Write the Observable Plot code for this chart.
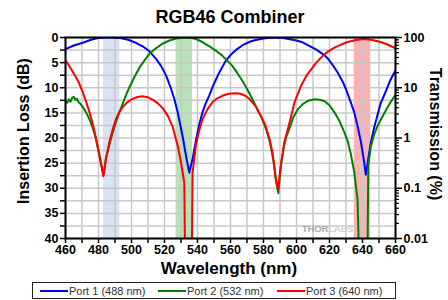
<!DOCTYPE html>
<html>
<head>
<meta charset="utf-8">
<script src="https://cdn.jsdelivr.net/npm/d3@7"></script>
<script src="https://cdn.jsdelivr.net/npm/@observablehq/plot@0.6"></script>
<style>
  html, body { margin: 0; padding: 0; background: #fff; }
  #wrap { position: relative; width: 448px; height: 300px; font-family: "Liberation Sans", Arial, sans-serif; color: #000; overflow: hidden; }
  #wrap svg { position: absolute; left: 0; top: 0; }
  .abs { position: absolute; white-space: nowrap; }
  #title { left: 130px; width: 200px; top: 7px; text-align: center; font-size: 18px; font-weight: bold; line-height: 20px; }
  #xlab { left: 129px; width: 200px; top: 259px; text-align: center; font-size: 17px; font-weight: bold; line-height: 20px; }
  #ylab { left: -76px; top: 121px; width: 200px; height: 20px; text-align: center; font-size: 16px; font-weight: bold; line-height: 20px; transform: rotate(-90deg); }
  #rlab { left: 335px; top: 124px; width: 200px; height: 20px; text-align: center; font-size: 16px; font-weight: bold; line-height: 20px; transform: rotate(90deg); }
  #legend { left: 32px; top: 282px; width: 364px; height: 17px; box-sizing: border-box; border: 1px solid #222; font-size: 11px; color: #333; }
  .item { position: absolute; top: 0; height: 15px; display: flex; align-items: center; }
  .sw { width: 28px; height: 2px; margin-right: 1px; }
  #wm { left: 302px; top: 223px; font-size: 9.5px; font-weight: bold; letter-spacing: -0.2px; }
</style>
</head>
<body>
<div id="wrap">
  <div id="plot"></div>
  <div id="title" class="abs">RGB46 Combiner</div>
  <div id="xlab" class="abs">Wavelength (nm)</div>
  <div id="ylab" class="abs">Insertion Loss (dB)</div>
  <div id="rlab" class="abs">Transmission (%)</div>
  <div id="wm" class="abs"><span style="color:#a8a8a8">THOR</span><span style="color:#d0d0d0">LABS</span></div>
  <div id="legend" class="abs"></div>
</div>
<script>
// ---- Data ----
const seriesNames = ["Port 1 (488 nm)", "Port 2 (532 nm)", "Port 3 (640 nm)"];
const seriesColors = ["#0000ff", "#008000", "#ff0000"];

const port1Wl = [460,465,470,475,479,484,488,493,498,503,507,511,515,518,521,524,526,528,531,533,535,537,539,541,543,545,547,550,553,557,560,564,568,572,576,581,586,591,596,600,604,608,612,616,619,622,625,628,630,633,635,637,639,641,642,643,645,647,649,651,654,657,660];
const port1Loss = [2.3,1.6,1.1,0.5,0.15,0.02,0,0.1,0.45,1.1,1.8,2.8,4.3,5.7,7.6,10.2,12.3,14.9,19.7,23.5,26.9,24.2,20.6,17.4,14.9,13.1,11.6,9.2,7.1,4.7,3.5,2.3,1.4,0.8,0.45,0.15,0,0.05,0.35,0.6,1.0,1.7,2.4,3.3,4.2,5.5,7.0,8.8,10.3,13.0,14.9,17.6,20.7,24.8,27.3,25.2,21.0,18.0,15.5,13.1,10.8,8.4,6.5];

const port2Wl = [460,461,462,463,464,465,466,467,468,469,470,472,474,476,478,480,481.5,483,484.5,486.5,488.5,490.5,492.5,494.5,497,499,502,505,508,511,515,519,523,527,531,535,539,543,547,551,555,558,561,564,567,570,573,576,579,582,584,586,587.5,589,590.5,592.5,594,596,598,601,604,607,611,614,617,620,623,626,629,631,633,635,637,638,643,643.5,645,647,649,651,654,657,660];
const port2Loss = [12.6,13.0,12.3,12.8,12.0,11.8,12.4,12.2,12.9,13.2,13.6,14.6,15.9,17.5,19.6,22.5,24.9,27.3,24.0,21.5,19.0,16.9,15.0,13.3,11.2,9.7,7.7,5.9,4.5,3.2,2.1,1.2,0.6,0.2,0.03,0,0.3,0.9,1.7,2.6,3.6,4.6,5.6,7.0,8.5,10.2,12.1,14.1,16.1,18.6,21.0,24.5,28.5,31.0,25.5,21.5,19.6,17.9,15.9,14.2,13.2,12.6,12.3,12.4,12.7,13.5,14.9,16.6,18.9,20.6,23.3,26.8,32.2,45,45,25.5,21.8,19.4,17.7,16.4,14.6,12.9,11.4];

const port3Wl = [460,462,464,466,468,470,472,474,476,478,480,481.5,483,484.5,486.5,488.5,490.5,492.5,494.5,497,500,503,506.5,510,513,516,519,522,525,528,530,532,532.5,536.5,537,539,541,543,546,549,552,555,559,563,566,569,572,575,578,581,583.5,585.5,587.5,588.8,590.5,592.5,595.8,598.8,602.8,606,609,612,616,619.5,623,627,631,636,641,646,651,655,660];
const port3Loss = [4.6,5.5,6.6,7.7,8.9,10.5,12.3,14.3,16.5,19.3,22.6,25.2,27.6,24.3,20.9,18.4,16.3,14.9,13.9,13.0,12.3,11.9,11.7,11.9,12.4,13.1,14.1,15.6,17.8,21.6,24.8,29.0,45,45,27,21.5,18.5,16.3,14.3,12.9,12.1,11.6,11.2,11.1,11.2,11.6,12.4,13.6,15.3,17.4,20.0,23.0,28.0,30.3,25.5,21.0,16.9,12.9,9.6,7.6,6.3,5.0,3.6,2.7,2.0,1.4,0.9,0.5,0.3,0.5,0.9,1.4,2.1];

// shaded laser bands (nm)
const bandLo = [483, 527, 635];
const bandHi = [493, 537, 645];
const bandColors = ["#d9e3f5", "#b9e2b9", "#ffb0b0"];

// axis ticks / labels
const xTickLabels = [460,480,500,520,540,560,580,600,620,640,660];
const yTickLabels = [0,5,10,15,20,25,30,35,40];
const transLabels = ["100","10","1","0.1","0.01"];
const transPct = [100,10,1,0.1,0.01];

// ---- Build ----
const zip = (wl, loss) => wl.map((w, i) => ({wl: w, loss: loss[i]}));
const ports = [zip(port1Wl, port1Loss), zip(port2Wl, port2Loss), zip(port3Wl, port3Loss)];
const bands = bandLo.map((lo, i) => ({lo, hi: bandHi[i], color: bandColors[i]}));

const pctToDb = p => -10 * Math.log10(p / 100);
const transDb = transPct.map(pctToDb);
const minorPct = [];
for (const dec of [0.01, 0.1, 1, 10]) for (let k = 2; k <= 9; k++) minorPct.push(k * dec);
const minorDb = minorPct.map(pctToDb);

const xGrid = d3.range(460, 661, 10);
const yGrid = d3.range(0, 40.01, 2.5);

const chart = Plot.plot({
  width: 448,
  height: 300,
  marginTop: 37,
  marginBottom: 62,
  marginLeft: 65,
  marginRight: 53,
  style: {fontFamily: "'Liberation Sans', Arial, sans-serif", fontSize: "12.5px", fontWeight: "bold", color: "#000", background: "transparent"},
  x: {domain: [460, 660]},
  y: {domain: [0, 40], reverse: true},
  marks: [
    ...bands.map(b => Plot.rect([b], {x1: "lo", x2: "hi", fill: b.color})),
    Plot.gridX(xGrid, {stroke: "#c8c8c8", strokeOpacity: 1, strokeWidth: 1.5}),
    Plot.gridY(yGrid, {stroke: "#c8c8c8", strokeOpacity: 1, strokeWidth: 1.5}),
    ...ports.map((p, i) => Plot.line(p, {x: "wl", y: "loss", stroke: seriesColors[i], strokeWidth: 2, clip: true})),
    Plot.frame({stroke: "#000", strokeWidth: 2}),
    Plot.axisX({ticks: xGrid, tickSize: 5, tickPadding: 2, strokeWidth: 1.5, label: null,
      tickFormat: d => xTickLabels.includes(d) ? String(d) : ""}),
    Plot.axisY({ticks: yGrid, tickSize: 5, tickPadding: 2, strokeWidth: 1.5, label: null,
      tickFormat: d => yTickLabels.includes(d) ? String(d) : ""}),
    Plot.axisY({anchor: "right", ticks: transDb, tickSize: 6, tickPadding: 2, strokeWidth: 1.5, label: null,
      tickFormat: d => transLabels[transDb.indexOf(d)]}),
    Plot.axisY({anchor: "right", ticks: minorDb, tickSize: 3, strokeWidth: 1.2, label: null, tickFormat: () => ""})
  ]
});
document.getElementById("plot").appendChild(chart);

// legend
const legend = document.getElementById("legend");
const legendLeft = [7, 125, 244];
seriesNames.forEach((name, i) => {
  const item = document.createElement("div");
  item.className = "item";
  item.style.left = legendLeft[i] + "px";
  item.innerHTML = `<span class="sw" style="background:${seriesColors[i]}"></span><span>${name}</span>`;
  legend.appendChild(item);
});
</script>
</body>
</html>
